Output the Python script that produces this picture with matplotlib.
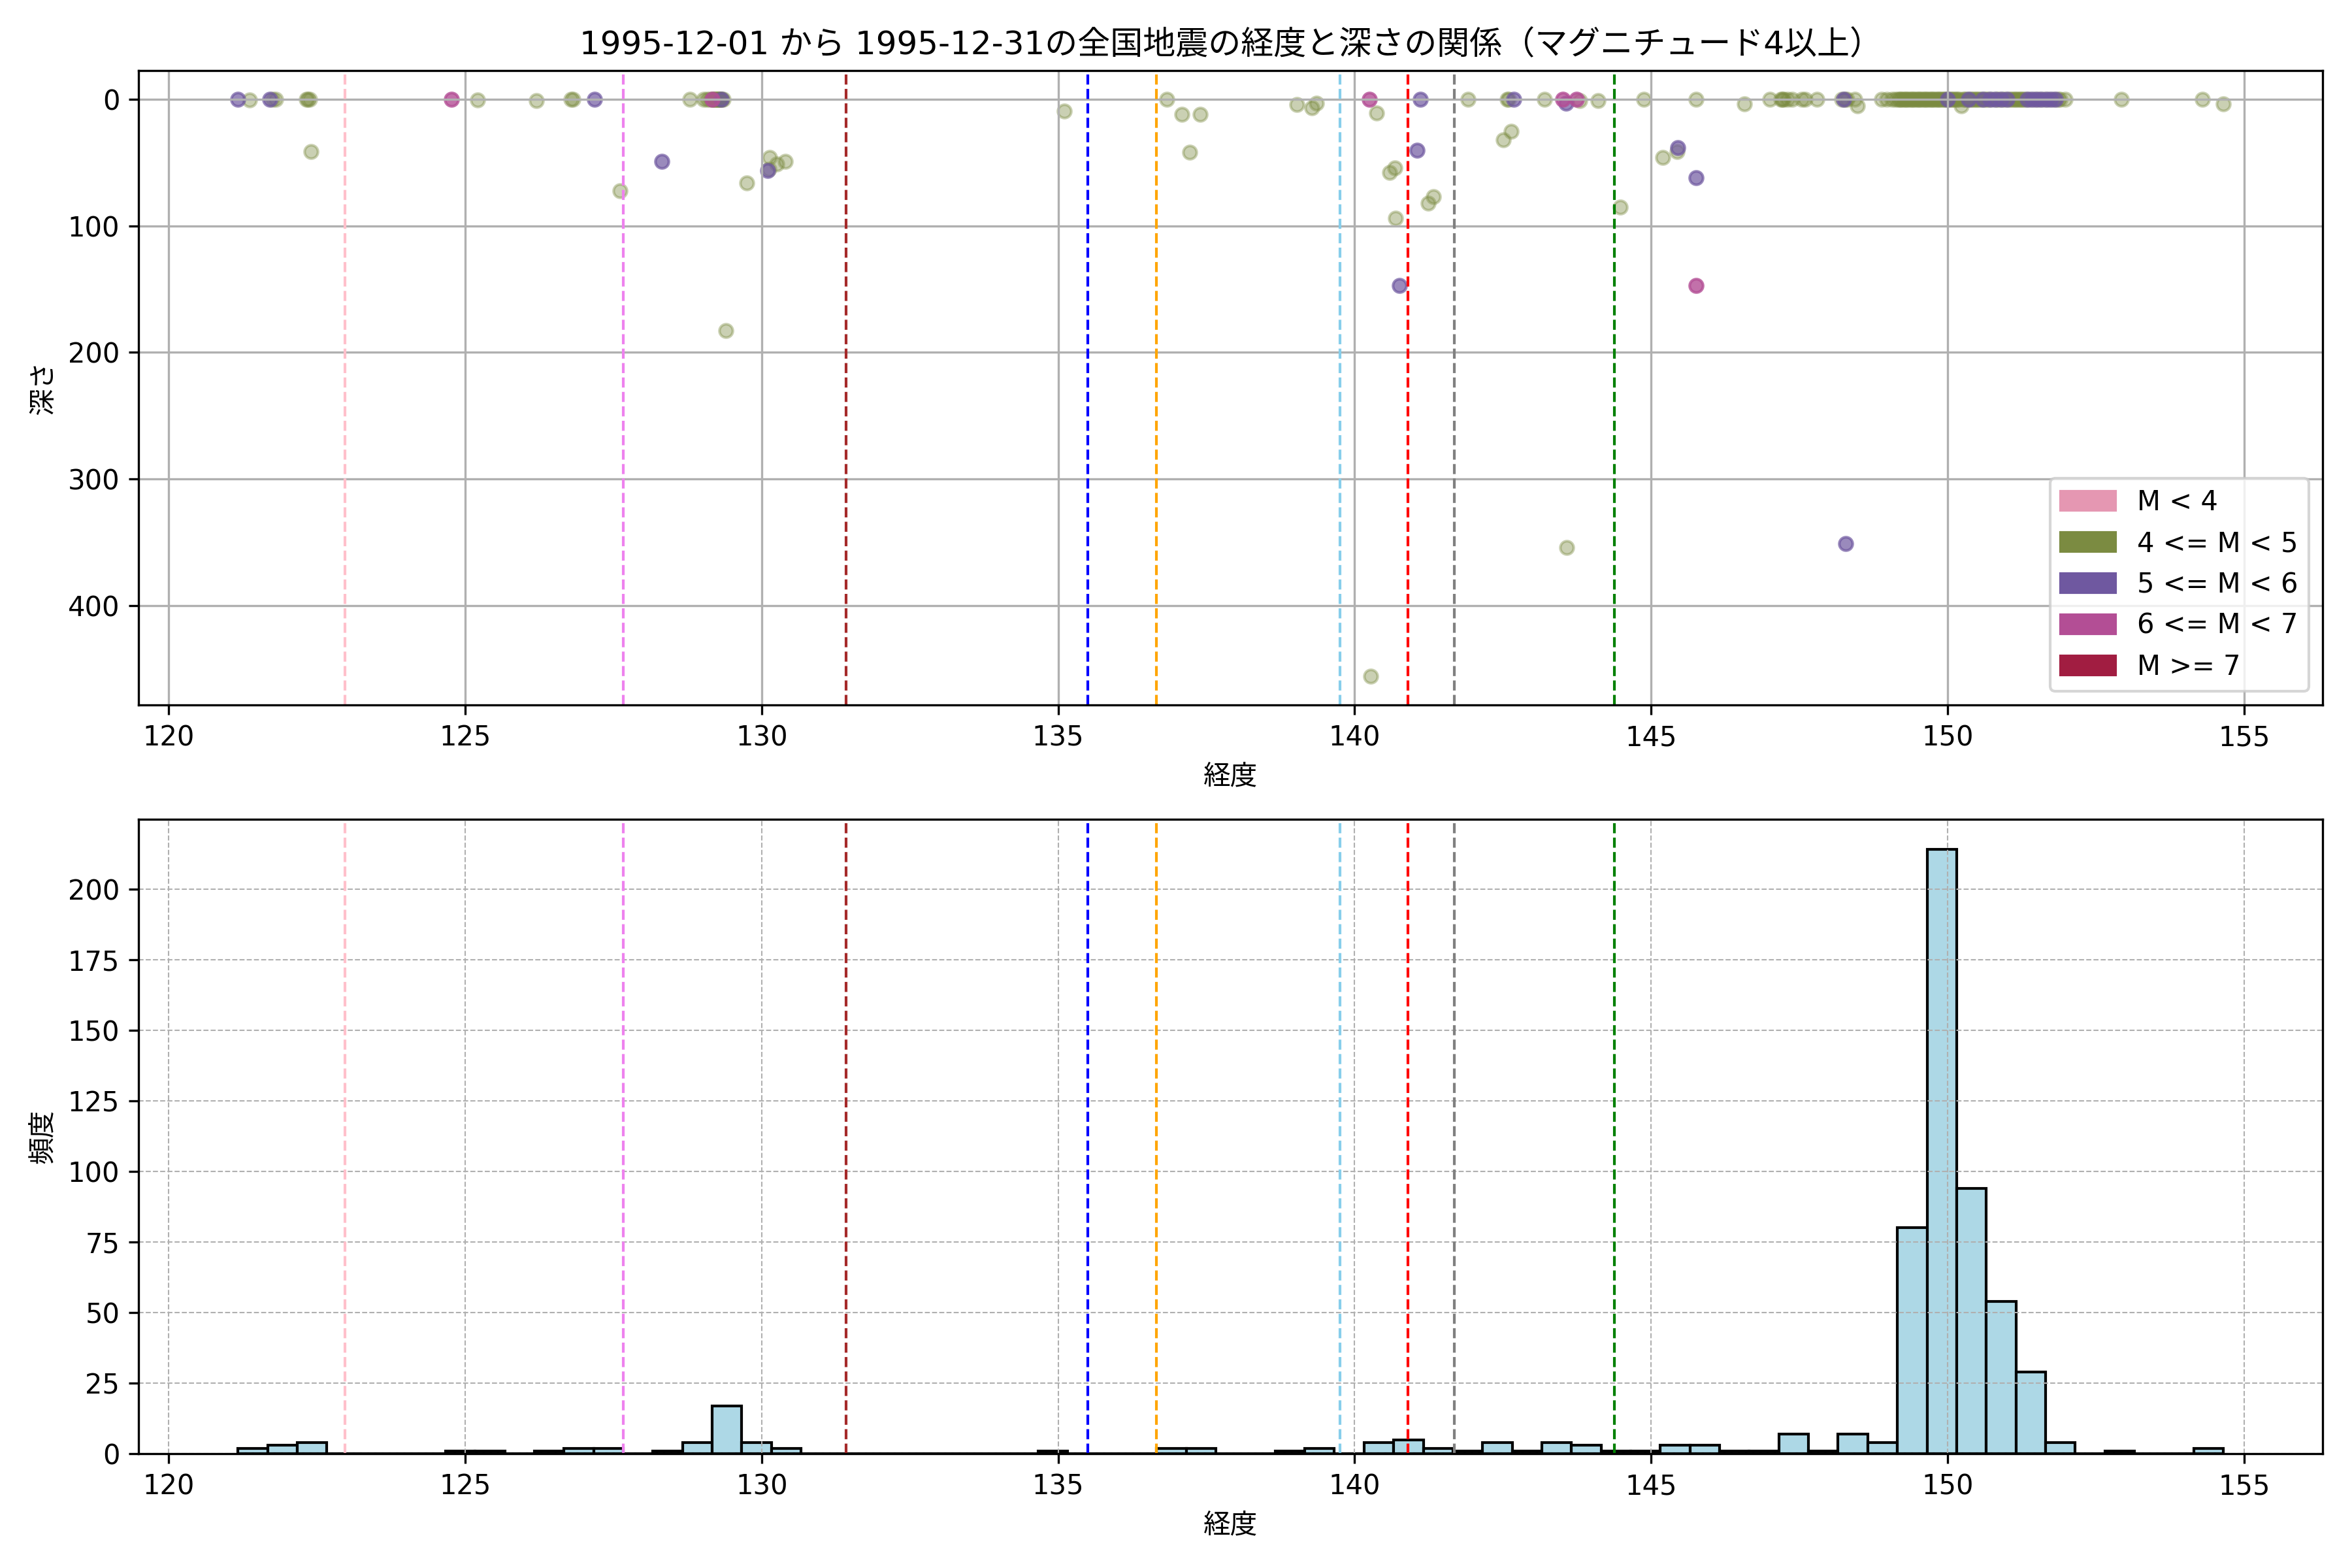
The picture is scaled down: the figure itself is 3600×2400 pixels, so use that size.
import numpy as np
import matplotlib.pyplot as plt
from matplotlib.patches import Patch

plt.rcParams['font.family'] = ['DejaVu Sans', 'Noto Sans CJK JP']

# === Data ===
TITLE = "1995-12-01 から 1995-12-31の全国地震の経度と深さの関係（マグニチュード4以上）"

# 4 <= M < 5
lon_m4 = [121.36, 121.75, 121.80, 122.32, 122.35, 122.38, 122.40, 125.21, 126.20,
          126.78, 126.82, 127.61, 128.79, 129.02, 129.08, 129.12,
          129.16, 129.18, 129.20, 129.21, 129.22, 129.24, 129.25, 129.26, 129.28,
          129.29, 129.30, 129.31, 129.33, 129.35, 129.40, 129.75, 130.12, 130.13,
          130.25, 130.40,
          135.10, 136.83, 137.09, 137.22, 137.40, 139.03, 139.28, 139.36, 140.27,
          140.37, 140.59, 140.68, 140.69, 141.24, 141.33, 141.91, 142.51, 142.57,
          142.60, 142.64, 143.20, 143.58, 143.80, 144.10, 144.48, 144.88, 145.20,
          145.44, 145.76,
          146.57, 147.00, 147.19, 147.21, 147.23, 147.30, 147.38, 147.54, 147.60,
          147.80, 148.22, 148.27, 148.30, 148.44, 148.48, 148.89, 148.98, 149.06,
          149.12,
          149.16, 149.19, 149.21, 149.24, 149.27, 149.30, 149.32, 149.35, 149.38,
          149.41, 149.43, 149.46, 149.49, 149.52, 149.54, 149.57, 149.60, 149.63,
          149.65, 149.68, 149.71, 149.74, 149.76, 149.79, 149.82, 149.85, 149.87,
          149.90, 149.93, 149.96, 149.98, 150.02, 150.05, 150.08, 150.11, 150.14,
          150.17, 150.20, 150.23, 150.26, 150.29, 150.32, 150.38, 150.41, 150.44,
          150.47, 150.50, 150.53, 150.56, 150.62, 150.65, 150.68, 150.75, 150.83,
          150.86, 150.93, 150.97, 151.04, 151.07, 151.10, 151.13, 151.16, 151.19,
          151.22, 151.25, 151.28, 151.31, 151.38, 151.46, 151.54, 151.62, 151.70,
          151.78, 151.86, 151.89, 151.98, 152.93, 154.30, 154.65]
dep_m4 = [0.5, 0, 0, 0, 0, 0, 41, 0.5, 1,
          0, 0, 72, 0, 0, 0, 0,
          0, 0, 0, 0, 0, 0, 0, 0, 0,
          0, 0, 0, 0, 0, 183, 66, 55, 46,
          51, 49,
          9, 0, 12, 42, 12, 4, 6.5, 3, 456,
          11, 58, 54, 94, 82, 77, 0, 32, 0,
          0, 25, 0, 354, 1, 1, 85, 0, 46,
          41, 0,
          3.6, 0, 0, 0, 0, 0, 0, 0, 0,
          0, 0, 0, 0, 0, 5, 0, 0, 0,
          0,
          0, 0, 0, 0, 0, 0, 0, 0, 0,
          0, 0, 0, 0, 0, 0, 0, 0, 0,
          0, 0, 0, 0, 0, 0, 0, 0, 0,
          0, 0, 0, 0, 0, 0, 0, 0, 0,
          0, 0, 5, 0, 0, 0, 0, 0, 0,
          0, 0, 0, 0, 0, 0, 0, 0, 0,
          0, 0, 0, 0, 0, 0, 0, 0, 0,
          0, 0, 0, 0, 0, 0, 0, 0, 0,
          0, 0, 0, 0, 0, 0, 3.6]

# 5 <= M < 6
lon_m5 = [121.17, 121.71, 127.18, 128.32, 129.32, 130.10, 140.76, 141.05, 141.11,
          142.68, 143.57, 145.45, 145.76, 148.25, 148.28, 150.00, 150.35, 150.59,
          150.72, 150.80, 150.90, 151.00, 151.34, 151.42, 151.50, 151.58, 151.66,
          151.74, 151.82]
dep_m5 = [0, 0, 0, 49, 0, 56, 147, 40, 0,
          0, 3, 38, 62, 0, 351, 0, 0, 0,
          0, 0, 0, 0, 0, 0, 0, 0, 0,
          0, 0]

# 6 <= M < 7
lon_m6 = [124.77, 129.17, 140.25, 143.51, 143.74, 145.76]
dep_m6 = [0, 0, 0, 0, 0, 147]

# histogram: counts per ~0.5 degree bin starting at hist_start
hist_start = 121.17
bin_width = 0.4997
hist_counts = [2, 3, 4, 0, 0, 0, 0, 1, 1, 0, 1, 2, 2, 0, 1, 4, 17, 4, 2, 0,
               0, 0, 0, 0, 0, 0, 0, 1, 0, 0, 0, 2, 2, 0, 0, 1, 2, 0, 4, 5,
               2, 1, 4, 1, 4, 3, 1, 1, 3, 3, 1, 1, 7, 1, 7, 4, 80, 214, 94, 54,
               29, 4, 0, 1, 0, 0, 2]

# reference longitudes (vertical dashed lines)
line_lons = [122.97, 127.67, 131.42, 135.50, 136.66, 139.75, 140.90, 141.68, 144.38]
line_colors = ['pink', 'violet', 'brown', 'blue', 'orange', 'skyblue', 'red', 'gray', 'green']

mag_labels = ['M < 4', '4 <= M < 5', '5 <= M < 6', '6 <= M < 7', 'M >= 7']
mag_colors = ['#e597b2', '#7b8b41', '#6f58a0', '#b34e95', '#a11d41']

# === Plot ===
fig, (ax1, ax2) = plt.subplots(2, 1, figsize=(12, 8), dpi=300)

ax1.scatter(lon_m4, dep_m4, s=24, color=mag_colors[1], alpha=0.4)
ax1.scatter(lon_m5, dep_m5, s=24, color=mag_colors[2], alpha=0.7)
ax1.scatter(lon_m6, dep_m6, s=24, color=mag_colors[3], alpha=0.8)
for x, c in zip(line_lons, line_colors):
    ax1.axvline(x, color=c, linestyle='--', linewidth=1)
ax1.invert_yaxis()
ax1.set_title(TITLE)
ax1.set_xlabel('経度')
ax1.set_ylabel('深さ')
ax1.grid(True)
handles = [Patch(color=c, label=l) for c, l in zip(mag_colors, mag_labels)]
ax1.legend(handles=handles, loc='lower right')

edges = hist_start + bin_width * np.arange(len(hist_counts) + 1)
ax2.hist(edges[:-1], bins=edges, weights=hist_counts, color='lightblue', edgecolor='black')
for x, c in zip(line_lons, line_colors):
    ax2.axvline(x, color=c, linestyle='--', linewidth=1)
ax2.set_xlabel('経度')
ax2.set_ylabel('頻度')
ax2.grid(True, linestyle='--', linewidth=0.5)

plt.tight_layout()
plt.savefig('out.png')
